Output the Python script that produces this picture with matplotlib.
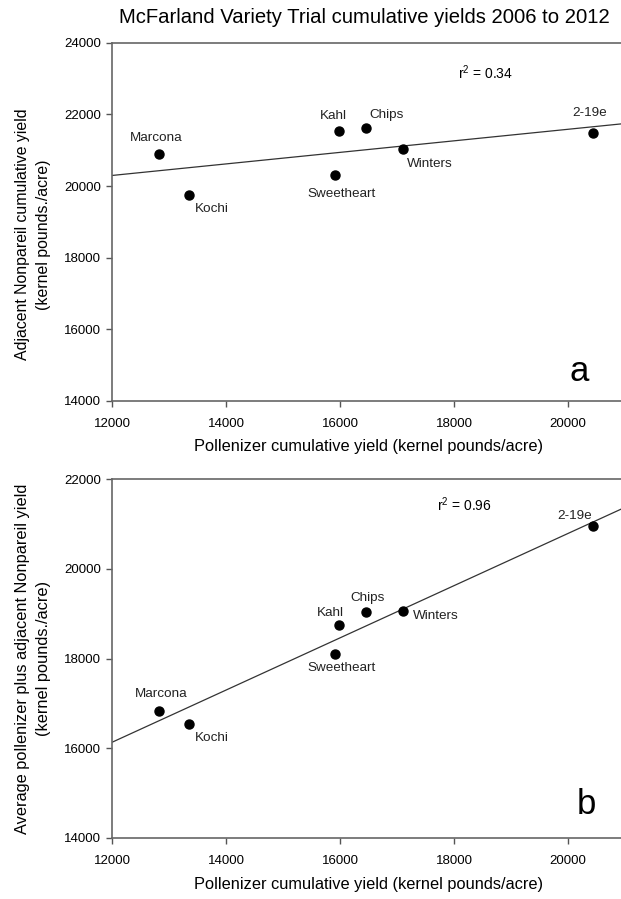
import numpy as np
import matplotlib
matplotlib.use('Agg')
import matplotlib.pyplot as plt

plt.rcParams['font.family'] = ['Liberation Sans', 'DejaVu Sans']

# values
varieties = ['Marcona', 'Kochi', 'Kahl', 'Chips', 'Sweetheart', 'Winters', '2-19e']
pollenizer_yield = [12830, 13350, 15990, 16460, 15920, 17100, 20440]
nonpareil_yield = [20900, 19740, 21530, 21610, 20300, 21040, 21480]
average_yield = [16840, 16550, 18750, 19030, 18100, 19060, 20960]

x_ticks = [12000, 14000, 16000, 18000, 20000]
ticks_a = [14000, 16000, 18000, 20000, 22000, 24000]
ticks_b = [14000, 16000, 18000, 20000, 22000]

# label offsets in pixels (dx, dy, ha)
offsets_a = [(-3, 16, 'center'), (23, -14, 'center'), (-6, 15, 'center'),
             (20, 13, 'center'), (6, -19, 'center'), (27, -15, 'center'),
             (-3, 20, 'center')]
offsets_b = [(2, 17, 'center'), (23, -14, 'center'), (-9, 12, 'center'),
             (1, 14, 'center'), (6, -14, 'center'), (10, -5, 'left'),
             (-18, 10, 'center')]

fig = plt.figure(figsize=(6.21, 8.99), dpi=100)
ax_a = fig.add_axes([0.1804, 0.5544, 0.826, 0.3978])
ax_b = fig.add_axes([0.1804, 0.0679, 0.826, 0.3990])

panels = [
    (ax_a, nonpareil_yield, ticks_a, (14000, 24000), offsets_a,
     ['Adjacent Nonpareil cumulative yield', '(kernel pounds./acre)'],
     'a', (0.91, 0.08), (0.674, 0.916), 0.465, 11.4),
    (ax_b, average_yield, ticks_b, (14000, 22000), offsets_b,
     ['Average pollenizer plus adjacent Nonpareil yield', '(kernel pounds./acre)'],
     'b', (0.924, 0.092), (0.634, 0.928), 0.50, 11.8),
]

for ax, yvals, yticks, ylim, offs, ylab, letter, letpos, r2pos, ylab_y, ylab_fs in panels:
    x = np.array(pollenizer_yield)
    y = np.array(yvals)
    slope, icpt = np.polyfit(x, y, 1)
    r2 = np.corrcoef(x, y)[0, 1] ** 2
    xs = np.array([12000, 21000])
    ax.plot(xs, slope * xs + icpt, color='#333333', lw=0.9, zorder=2)
    ax.plot(x, y, 'o', color='black', ms=6.5, zorder=3)

    for name, xv, yv, (dx, dy, ha) in zip(varieties, x, y, offs):
        ax.annotate(name, (xv, yv), xytext=(dx, dy), textcoords='offset pixels',
                    ha=ha, va='center', fontsize=9.7, color='#222222')

    ax.text(r2pos[0], r2pos[1], r'r$^{\mathregular{2}}$ = %.2f' % r2,
            transform=ax.transAxes, fontsize=10, va='center', ha='left')
    ax.text(letpos[0], letpos[1], letter, transform=ax.transAxes, fontsize=25,
            ha='center', va='center')

    ax.set_xlim(12000, 21000)
    ax.set_ylim(*ylim)
    ax.set_xticks(x_ticks)
    ax.set_yticks(yticks)
    ax.tick_params(axis='x', direction='out', length=4, width=1, pad=8.5,
                   labelsize=9.5, colors='#555555', labelcolor='black', top=False)
    ax.tick_params(axis='y', direction='out', length=4, width=1, pad=4,
                   labelsize=9.5, colors='#555555', labelcolor='black', right=False)
    for sp in ax.spines.values():
        sp.set_color('#666666')
        sp.set_linewidth(1.2)

    ax.text(0.5, -0.129, 'Pollenizer cumulative yield (kernel pounds/acre)',
            transform=ax.transAxes, ha='center', va='center', fontsize=11.8)
    ax.text(-0.175, ylab_y, ylab[0], transform=ax.transAxes, rotation=90,
            ha='center', va='center', fontsize=ylab_fs)
    ax.text(-0.133, ylab_y, ylab[1], transform=ax.transAxes, rotation=90,
            ha='center', va='center', fontsize=ylab_fs)

fig.text(0.587, 0.980, 'McFarland Variety Trial cumulative yields 2006 to 2012',
         ha='center', va='center', fontsize=14.6)

fig.savefig('out.png', dpi=100)
